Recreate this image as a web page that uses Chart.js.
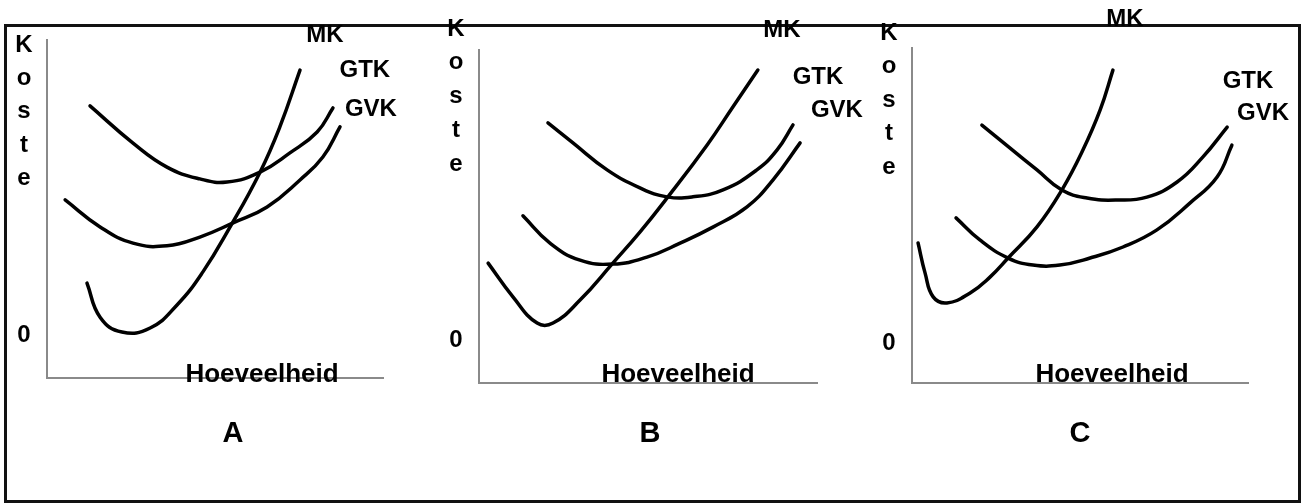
<!DOCTYPE html>
<html>
<head>
<meta charset="utf-8">
<title>Koste krommes A, B, C</title>
<script src="https://cdn.jsdelivr.net/npm/chart.js@4.4.1/dist/chart.umd.min.js"></script>
<style>
  html, body { margin: 0; padding: 0; background: #fff; }
  #page { position: relative; width: 1302px; height: 503px; overflow: hidden; }
  #frame { position: absolute; left: 4px; top: 24px; width: 1297px; height: 479px;
           box-sizing: border-box; border: 3px solid #111; }
  .panel { position: absolute; top: 0; width: 434px; height: 503px; }
</style>
</head>
<body>
<div id="page">
  <div id="frame"></div>
  <canvas id="chartA" class="panel" width="434" height="503" style="left:0px"></canvas>
  <canvas id="chartB" class="panel" width="434" height="503" style="left:434px"></canvas>
  <canvas id="chartC" class="panel" width="434" height="503" style="left:868px"></canvas>
</div>

<script>
// Curves as [quantity, cost] pairs, both axes run 0..10
const mkA  = [[1.19,2.81],[1.58,1.80],[2.23,1.36],[3.07,1.48],[3.87,2.16],[4.64,3.14],[5.45,4.47],[6.34,6.09],[6.93,7.43],[7.53,9.11]];
const gtkA = [[1.28,8.05],[2.56,6.95],[3.57,6.24],[4.55,5.89],[5.36,5.80],[6.34,6.09],[7.23,6.66],[8.04,7.28],[8.51,7.99]];
const gvkA = [[0.54,5.27],[1.58,4.47],[2.56,3.99],[3.57,3.91],[4.55,4.17],[5.54,4.59],[6.55,5.06],[7.53,5.86],[8.21,6.54],[8.72,7.43]];

const mkB  = [[0.27,3.60],[1.01,2.58],[1.72,1.80],[2.19,1.80],[2.99,2.49],[3.96,3.60],[4.76,4.53],[5.59,5.59],[6.75,7.15],[7.51,8.29],[8.25,9.40]];
const gtkB = [[2.04,7.81],[2.78,7.21],[3.79,6.40],[4.76,5.86],[5.56,5.59],[6.33,5.59],[7.22,5.80],[8.22,6.40],[8.82,7.00],[9.29,7.75]];
const gvkB = [[1.30,5.02],[2.10,4.20],[2.99,3.69],[3.96,3.57],[4.97,3.78],[5.95,4.20],[6.92,4.68],[7.93,5.29],[8.70,6.10],[9.50,7.21]];

const mkC  = [[0.18,4.18],[0.39,3.28],[0.63,2.57],[1.04,2.39],[1.73,2.69],[2.32,3.16],[2.86,3.73],[3.72,4.66],[4.46,5.76],[5.09,6.96],[5.60,8.15],[5.98,9.34]];
const gtkC = [[2.08,7.70],[2.92,7.01],[3.72,6.36],[4.46,5.76],[5.21,5.52],[6.10,5.46],[6.99,5.55],[7.89,6.00],[8.66,6.75],[9.38,7.64]];
const gvkC = [[1.31,4.93],[2.02,4.27],[2.86,3.73],[3.60,3.52],[4.40,3.52],[5.30,3.73],[6.28,4.06],[7.29,4.57],[8.27,5.37],[9.08,6.15],[9.52,7.10]];

const curveNames = ['MK', 'GTK', 'GVK'];
const yLetters = ['K', 'o', 's', 't', 'e'];
const xTitle = 'Hoeveelheid';
const zeroLabel = '0';

const FONT = '"Liberation Sans", Arial, sans-serif';

// text that sits around each panel (label spots are given in axis units)
const panelText = {
  id: 'panelText',
  afterDraw(chart, args, o) {
    const ctx = chart.ctx;
    const xs = chart.scales.x, ys = chart.scales.y;
    const area = chart.chartArea;
    ctx.save();
    ctx.fillStyle = '#000';
    ctx.textAlign = 'center';
    ctx.textBaseline = 'middle';

    ctx.font = 'bold 24px ' + FONT;
    yLetters.forEach((ch, i) => {
      ctx.fillText(ch, area.left - 23, area.top + o.kTop + i * o.kStep);
    });
    ctx.fillText(zeroLabel, area.left - 23, area.bottom + o.zeroDy);

    o.names.forEach(n => {
      ctx.fillText(n.text, xs.getPixelForValue(n.x), ys.getPixelForValue(n.y));
    });

    ctx.font = 'bold 26px ' + FONT;
    ctx.fillText(xTitle, area.left + o.titleDx, area.bottom + o.titleDy);

    ctx.font = 'bold 29px ' + FONT;
    ctx.fillText(o.letter, area.left + o.letterDx, area.bottom + o.letterDy);
    ctx.restore();
  }
};

function curve(label, pts) {
  return {
    label: label,
    data: pts.map(p => ({ x: p[0], y: p[1] })),
    borderColor: '#000',
    borderWidth: 3.5,
    borderCapStyle: 'round',
    pointRadius: 0,
    fill: false,
    tension: 0.45
  };
}

function axis() {
  return {
    type: 'linear', min: 0, max: 10,
    ticks: { display: false },
    grid: { display: false, drawTicks: false },
    border: { display: true, color: '#8a8a8a', width: 2 }
  };
}

function makePanel(id, mk, gtk, gvk, pad, text) {
  new Chart(document.getElementById(id), {
    type: 'line',
    data: { datasets: [curve(curveNames[0], mk), curve(curveNames[1], gtk), curve(curveNames[2], gvk)] },
    options: {
      responsive: false,
      animation: false,
      layout: { padding: pad },
      plugins: { legend: { display: false }, tooltip: { enabled: false }, panelText: text },
      scales: { x: axis(), y: axis() }
    },
    plugins: [panelText]
  });
}

makePanel('chartA', mkA, gtkA, gvkA,
  { left: 47, right: 51, top: 40, bottom: 125 },
  { letter: 'A', kTop: 5, kStep: 33.3, zeroDy: -43, titleDx: 215, titleDy: -3, letterDx: 186, letterDy: 56,
    names: [{ text: 'MK', x: 8.27, y: 10.15 }, { text: 'GTK', x: 9.46, y: 9.11 }, { text: 'GVK', x: 9.64, y: 7.96 }] });

makePanel('chartB', mkB, gtkB, gvkB,
  { left: 45, right: 51, top: 50, bottom: 120 },
  { letter: 'B', kTop: -21, kStep: 33.8, zeroDy: -43, titleDx: 199, titleDy: -8, letterDx: 171, letterDy: 51,
    names: [{ text: 'MK', x: 8.96, y: 10.6 }, { text: 'GTK', x: 10.03, y: 9.19 }, { text: 'GVK', x: 10.59, y: 8.2 }] });

makePanel('chartC', mkC, gtkC, gvkC,
  { left: 44, right: 54, top: 48, bottom: 120 },
  { letter: 'C', kTop: -15, kStep: 33.5, zeroDy: -40, titleDx: 200, titleDy: -8, letterDx: 168, letterDy: 51,
    names: [{ text: 'MK', x: 6.34, y: 10.84 }, { text: 'GTK', x: 10.0, y: 8.99 }, { text: 'GVK', x: 10.45, y: 8.06 }] });
</script>
</body>
</html>
